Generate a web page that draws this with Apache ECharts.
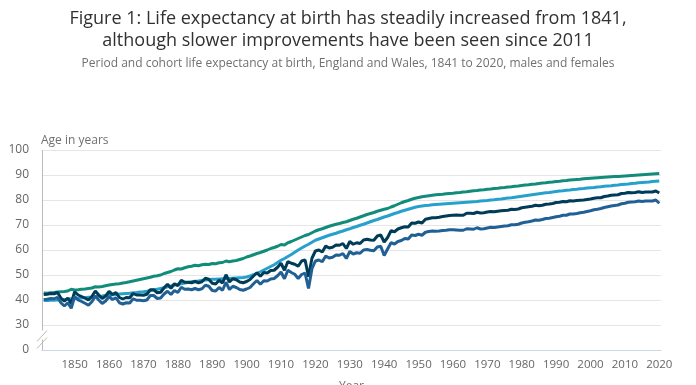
<!DOCTYPE html>
<html><head><meta charset="utf-8">
<script src="https://cdn.jsdelivr.net/npm/echarts@6/dist/echarts.min.js"></script>
<style>html,body{margin:0;padding:0;background:#fff}#c{width:696px;height:385px}</style>
</head><body><div id="c"></div>
<script>
const startYear = 1841, endYear = 2020;
const years = [];
for (let y = startYear; y <= endYear; y++) years.push(String(y));
const yTicks = [20, 30, 40, 50, 60, 70, 80, 90, 100];
const yTickLabels = ['0', '30', '40', '50', '60', '70', '80', '90', '100'];
const seriesNames = ['Females cohort', 'Males cohort', 'Females period', 'Males period'];
const xAxisTitle = 'Year';

const femalesCohort = [
42.8,42.7,42.9,43.0,43.2,43.3,43.4,43.6,44.3,44.0,
44.1,44.3,44.4,44.6,44.8,45.3,45.2,45.4,45.7,46.0,
46.2,46.4,46.5,46.8,47.0,47.3,47.6,47.9,48.2,48.5,
48.8,49.1,49.5,49.7,50.0,50.6,51.0,51.4,52.0,52.5,
52.4,52.9,53.3,53.5,53.9,53.7,54.1,54.3,54.2,54.6,
54.5,54.9,55.0,55.6,55.3,55.6,55.8,56.2,56.6,57.2,
57.6,58.1,58.6,59.0,59.5,60.0,60.6,61.0,61.5,62.2,
62.0,62.9,63.4,64.0,64.6,65.2,65.8,66.2,66.9,67.6,
68.1,68.5,69.0,69.5,69.9,70.3,70.6,71.0,71.3,71.8,
72.3,72.7,73.2,73.7,74.2,74.6,75.0,75.5,75.9,76.3,
76.6,77.2,77.7,78.3,78.9,79.4,79.8,80.3,80.7,81.0,
81.3,81.5,81.7,81.9,82.1,82.2,82.3,82.5,82.6,82.7,
82.9,83.0,83.2,83.3,83.5,83.7,83.8,84.0,84.1,84.3,
84.4,84.6,84.7,84.9,85.0,85.2,85.3,85.5,85.6,85.8,
86.0,86.1,86.3,86.4,86.6,86.8,86.9,87.1,87.2,87.4,
87.5,87.7,87.8,88.0,88.1,88.2,88.3,88.5,88.6,88.7,
88.8,88.9,89.0,89.1,89.2,89.3,89.4,89.4,89.5,89.6,
89.7,89.8,89.9,90.0,90.1,90.2,90.3,90.4,90.5,90.6];

const malesCohort = [
39.8,39.8,39.9,39.9,40.0,40.1,40.2,40.3,40.5,40.6,
40.7,40.8,40.9,41.1,41.2,41.4,41.5,41.6,41.8,42.0,
42.1,42.2,42.4,42.5,42.6,42.7,42.9,43.0,43.2,43.3,
43.5,43.8,44.0,44.3,44.6,44.9,45.3,45.6,46.0,46.3,
46.5,46.8,47.0,47.3,47.5,47.6,47.8,48.0,48.1,48.3,
48.3,48.4,48.5,48.6,48.6,48.7,48.8,48.9,49.0,49.2,
49.6,50.1,50.7,51.3,52.0,52.7,53.4,54.1,55.0,55.9,
56.6,57.4,58.2,59.1,60.0,60.8,61.6,62.3,63.1,63.9,
64.4,64.9,65.4,65.9,66.3,66.7,67.2,67.6,68.1,68.5,
69.0,69.4,69.9,70.3,70.8,71.3,71.8,72.2,72.7,73.2,
73.6,74.1,74.6,75.0,75.5,75.9,76.3,76.7,77.1,77.4,
77.6,77.8,77.9,78.1,78.2,78.3,78.4,78.5,78.6,78.7,
78.8,78.9,79.0,79.1,79.2,79.3,79.4,79.6,79.7,79.8,
80.0,80.1,80.3,80.4,80.6,80.8,80.9,81.1,81.3,81.5,
81.7,81.9,82.1,82.3,82.5,82.7,82.9,83.0,83.2,83.4,
83.6,83.7,83.9,84.0,84.2,84.3,84.5,84.6,84.8,84.9,
85.0,85.2,85.3,85.5,85.6,85.7,85.9,86.0,86.2,86.3,
86.4,86.6,86.7,86.9,87.0,87.1,87.2,87.4,87.5,87.6];

const femalesPeriod = [
42.2,42.3,42.6,42.5,43.0,40.8,39.5,40.8,38.6,43.3,
42.0,41.4,40.8,40.0,41.4,43.6,42.0,40.6,41.6,43.4,
42.2,43.0,41.0,40.4,41.0,40.9,42.6,42.0,42.0,41.9,
42.3,44.1,44.1,42.9,43.1,44.9,46.3,44.7,46.5,45.7,
47.9,47.1,47.1,46.9,47.4,46.9,47.3,48.7,48.3,46.7,
46.4,47.9,46.8,50.1,47.2,48.5,48.1,47.2,46.9,47.4,
48.2,49.6,50.9,49.5,51.0,50.8,51.8,51.9,53.1,54.7,
51.9,55.4,54.7,54.3,53.5,55.6,56.0,49.3,56.7,59.6,
60.0,59.2,61.6,60.8,61.1,62.0,61.9,62.6,60.6,63.4,
62.3,62.9,62.6,64.0,64.3,64.0,63.9,65.6,66.0,63.2,
65.0,67.7,67.3,68.4,68.9,69.3,69.2,70.8,70.7,71.2,
70.8,72.3,72.6,72.9,72.9,73.1,73.4,73.6,73.8,73.9,
74.0,73.9,73.9,74.7,74.7,74.6,75.1,74.8,74.9,75.2,
75.4,75.3,75.5,75.7,75.8,75.9,76.3,76.2,76.4,76.9,
77.1,77.3,77.5,77.9,77.7,77.9,78.3,78.4,78.6,79.0,
79.1,79.4,79.3,79.7,79.6,79.8,79.9,80.0,80.2,80.4,
80.7,80.9,80.9,81.4,81.6,81.9,82.0,82.1,82.6,82.7,
83.0,82.9,83.0,83.3,83.0,83.2,83.2,83.2,83.6,82.8];

const malesPeriod = [
40.2,40.3,40.6,40.5,41.1,38.9,37.6,38.9,36.7,41.4,
40.0,39.4,38.7,37.9,39.3,41.6,40.0,38.6,39.6,41.4,
40.2,40.9,38.9,38.4,38.9,38.8,40.5,39.9,39.9,39.7,
40.0,41.8,41.8,40.6,40.8,42.4,43.5,42.2,43.8,43.0,
45.1,44.3,44.4,44.1,44.6,44.1,44.5,45.9,45.5,43.8,
43.6,45.0,43.9,47.1,44.2,45.5,45.0,44.2,43.9,44.4,
45.0,46.5,47.8,46.3,47.7,47.6,48.4,48.6,49.7,51.2,
48.5,51.9,51.0,50.3,48.6,50.2,50.8,44.6,52.5,55.6,
56.0,55.3,57.6,56.8,57.1,58.0,57.9,58.6,56.6,59.4,
58.4,58.9,58.7,60.0,60.2,59.9,59.7,61.2,61.5,57.8,
60.4,62.9,62.4,63.4,63.8,64.6,64.4,66.0,65.8,66.3,
65.9,67.1,67.4,67.6,67.5,67.6,67.8,67.9,68.1,68.1,
68.0,67.9,67.9,68.5,68.4,68.3,68.9,68.4,68.5,68.8,
69.1,69.0,69.2,69.4,69.6,69.7,70.1,70.1,70.3,70.8,
71.1,71.3,71.6,72.0,71.9,72.2,72.6,72.7,73.0,73.3,
73.5,73.9,73.9,74.4,74.4,74.6,74.9,75.1,75.4,75.7,
76.1,76.3,76.6,77.0,77.3,77.6,77.8,78.0,78.5,78.7,
79.1,79.2,79.3,79.6,79.4,79.6,79.6,79.6,80.0,78.7];

const colors = ['#118c7b', '#27a0cc', '#003c57', '#206095'];
const allSeries = [femalesCohort, malesCohort, femalesPeriod, malesPeriod];

const chart = echarts.init(document.getElementById('c'), null, {renderer: 'canvas'});
const FONT = "'Open Sans', 'Noto Sans', sans-serif";
const option = {
  animation: false,
  textStyle: {fontFamily: FONT},
  title: [{
    text: 'Figure 1: Life expectancy at birth has steadily increased from 1841,\nalthough slower improvements have been seen since 2011',
    left: 'center', top: 3,
    textStyle: {fontFamily: FONT, fontSize: 18, fontWeight: 'normal', color: '#323132', lineHeight: 22},
    subtext: 'Period and cohort life expectancy at birth, England and Wales, 1841 to 2020, males and females',
    subtextStyle: {fontFamily: FONT, fontSize: 12, color: '#707071'},
    itemGap: 6
  }],
  grid: {left: 42, right: 35, top: 150, bottom: 35, outerBoundsMode: 'none', containLabel: false},
  xAxis: {
    type: 'category', data: years, boundaryGap: true,
    axisLine: {lineStyle: {color: '#ccd6eb', width: 1}},
    axisTick: {alignWithLabel: true, length: 8, lineStyle: {color: '#ccd6eb'},
      interval: (i, v) => Number(v) % 10 === 0},
    axisLabel: {color: '#666', fontSize: 11.5, margin: 9, fontFamily: FONT,
      interval: (i, v) => Number(v) % 10 === 0},
    splitLine: {show: false}
  },
  yAxis: {
    type: 'value', min: 20, max: 100, interval: 10,
    name: 'Age in years', nameLocation: 'end', nameGap: 3,
    nameTextStyle: {color: '#707071', fontSize: 12, align: 'left', fontFamily: FONT, padding: [0, 0, 0, -1]},
    axisLine: {show: false},
    axisTick: {show: false},
    axisLabel: {color: '#666', fontSize: 12, margin: 13, fontFamily: FONT,
      formatter: v => { const i = yTicks.indexOf(v); return i >= 0 ? yTickLabels[i] : ''; }},
    splitLine: {lineStyle: {color: '#e6e6e6', width: 1}}
  },
  series: allSeries.map((d, i) => ({
    name: seriesNames[i], type: 'line', data: d, showSymbol: false, symbol: 'none',
    lineStyle: {color: colors[i], width: 3}, itemStyle: {color: colors[i]}, z: 2 + i
  }))
};
chart.setOption(option);

// y-axis line with break marks and the clipped x-axis title (placed via the axis scales)
const leftX = 42;
const yTop = chart.convertToPixel({yAxisIndex: 0}, 100);
const y20 = chart.convertToPixel({yAxisIndex: 0}, 20);
const y25 = chart.convertToPixel({yAxisIndex: 0}, 25);
const xMid = (chart.convertToPixel({xAxisIndex: 0}, 0) + chart.convertToPixel({xAxisIndex: 0}, years.length - 1)) / 2;
const lc = '#bbbbbb';
chart.setOption({graphic: [
  {type: 'line', shape: {x1: leftX + 0.5, y1: yTop, x2: leftX + 0.5, y2: y25 - 7}, style: {stroke: lc, lineWidth: 1}},
  {type: 'line', shape: {x1: leftX - 5, y1: y25 + 4, x2: leftX + 5, y2: y25 - 7}, style: {stroke: lc, lineWidth: 1}},
  {type: 'line', shape: {x1: leftX - 5, y1: y25 + 11, x2: leftX + 5, y2: y25}, style: {stroke: lc, lineWidth: 1}},
  {type: 'line', shape: {x1: leftX + 0.5, y1: y25 + 2, x2: leftX + 0.5, y2: y20}, style: {stroke: lc, lineWidth: 1}},
  {type: 'text', x: xMid, y: y20 + 31, style: {text: xAxisTitle, fill: '#707071', font: "12px 'Open Sans', sans-serif", textAlign: 'center', textVerticalAlign: 'top'}}
]});
</script></body></html>
